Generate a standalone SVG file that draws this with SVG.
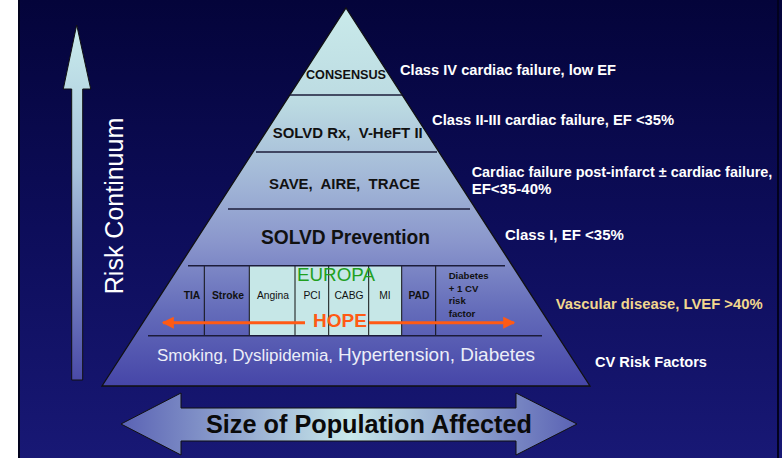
<svg xmlns="http://www.w3.org/2000/svg" width="782" height="458" viewBox="0 0 782 458">
<defs>
<linearGradient id="bg" x1="0" y1="0" x2="0" y2="458" gradientUnits="userSpaceOnUse">
<stop offset="0" stop-color="#04043a"/>
<stop offset="0.5" stop-color="#0d0d5a"/>
<stop offset="1" stop-color="#181875"/>
</linearGradient>
<linearGradient id="pyr" x1="0" y1="8" x2="0" y2="386" gradientUnits="userSpaceOnUse">
<stop offset="0" stop-color="#c9eaea"/>
<stop offset="0.25" stop-color="#bcdbe2"/>
<stop offset="0.47" stop-color="#a0b4d6"/>
<stop offset="0.62" stop-color="#8a96cc"/>
<stop offset="0.8" stop-color="#646cba"/>
<stop offset="1" stop-color="#4646a8"/>
</linearGradient>
<linearGradient id="risk" x1="0" y1="25" x2="0" y2="380" gradientUnits="userSpaceOnUse">
<stop offset="0" stop-color="#c9ecec"/>
<stop offset="0.4" stop-color="#a8c4dc"/>
<stop offset="1" stop-color="#4a4aa8"/>
</linearGradient>
<linearGradient id="size" x1="121" y1="0" x2="577" y2="0" gradientUnits="userSpaceOnUse">
<stop offset="0" stop-color="#5a62b4"/>
<stop offset="0.5" stop-color="#c8e8ea"/>
<stop offset="1" stop-color="#5a62b4"/>
</linearGradient>
<marker id="oh" viewBox="0 0 10 10" refX="9" refY="5" markerWidth="4" markerHeight="4" orient="auto-start-reverse" markerUnits="strokeWidth">
<path d="M0,0 L10,5 L0,10 z" fill="#ff5a14"/>
</marker>
<style>
.b{font-family:"Liberation Sans",Arial,sans-serif;font-weight:bold}
.r{font-family:"Liberation Sans",Arial,sans-serif}
.lbl{font-size:15px;fill:#ffffff}
.in{fill:#111111;text-anchor:middle}
.cell{font-size:10.3px;fill:#111111;text-anchor:middle}
.hl{stroke:#1c1c3a;stroke-width:1.5}
.vl{stroke:#111111;stroke-width:1}
</style>
</defs>
<rect x="0" y="0" width="782" height="458" fill="#ffffff"/>
<rect x="18" y="0" width="764" height="458" fill="url(#bg)"/>
<rect x="18" y="0" width="2" height="458" fill="#02021e"/>
<rect x="777" y="0" width="2" height="458" fill="#02021e"/>

<g id="risk-continuum">
<path d="M76.7,25 L90.7,89 L82.7,89 L82.7,380 L71.7,380 L71.7,89 L63.3,89 Z" fill="url(#risk)" stroke="#111111" stroke-width="1"/>
<text class="r" x="0" y="0" font-size="25" fill="#ffffff" text-anchor="middle" transform="translate(123,206) rotate(-90)">Risk Continuum</text>
</g>

<g id="pyramid">
<path d="M346,8 L590,386 L102,386 Z" fill="url(#pyr)" stroke="#111111" stroke-width="1.3"/>
</g>

<g id="vascular-cells">
<rect x="249.3" y="265.7" width="152.4" height="70" fill="#c6e7e7"/>
<line class="vl" x1="204.3" y1="265.7" x2="204.3" y2="335.7"/>
<line class="vl" x1="249.3" y1="265.7" x2="249.3" y2="335.7"/>
<line class="vl" x1="295" y1="265.7" x2="295" y2="335.7"/>
<line class="vl" x1="328.7" y1="265.7" x2="328.7" y2="335.7"/>
<line class="vl" x1="368.7" y1="265.7" x2="368.7" y2="335.7"/>
<line class="vl" x1="401.7" y1="265.7" x2="401.7" y2="335.7"/>
<line class="vl" x1="435.7" y1="265.7" x2="435.7" y2="335.7"/>
</g>

<g id="tier-lines">
<line class="hl" x1="290" y1="95" x2="402" y2="95"/>
<line class="hl" x1="256" y1="152" x2="437" y2="152"/>
<line class="hl" x1="228" y1="209" x2="470" y2="209"/>
<line class="hl" x1="188" y1="265.7" x2="505" y2="265.7"/>
<line class="hl" x1="148" y1="335.7" x2="542" y2="335.7"/>
</g>

<g id="tier-consensus">
<text class="b" x="306" y="79" font-size="13.2" fill="#111111" textLength="80" lengthAdjust="spacingAndGlyphs">CONSENSUS</text>
</g>
<g id="tier-solvd-rx">
<text class="b" x="272.7" y="138" font-size="15.2" fill="#111111" xml:space="preserve" textLength="150" lengthAdjust="spacingAndGlyphs">SOLVD Rx,  V-HeFT II</text>
</g>
<g id="tier-save">
<text class="b" x="269" y="189" font-size="14" fill="#111111" xml:space="preserve" textLength="151" lengthAdjust="spacingAndGlyphs">SAVE,  AIRE,  TRACE</text>
</g>
<g id="tier-solvd-prev">
<text class="b" x="261" y="243.5" font-size="19.5" fill="#111111" textLength="169" lengthAdjust="spacingAndGlyphs">SOLVD Prevention</text>
</g>
<g id="tier-vascular">
<text class="b cell" x="192" y="299">TIA</text>
<text class="b cell" x="228" y="299">Stroke</text>
<text class="r cell" x="273" y="299" font-size="10.5">Angina</text>
<text class="r cell" x="312" y="299" font-size="10.5">PCI</text>
<text class="r cell" x="349" y="299" font-size="10.5">CABG</text>
<text class="r cell" x="385" y="299" font-size="10.5">MI</text>
<text class="b cell" x="419" y="299">PAD</text>
<text class="b" x="448.7" font-size="9.6" fill="#111111"><tspan x="448.7" y="279">Diabetes</tspan><tspan x="448.7" y="291.5">+ 1 CV</tspan><tspan x="448.7" y="304">risk</tspan><tspan x="448.7" y="316.7">factor</tspan></text>
<text class="r" x="336" y="280.7" font-size="18.8" fill="#1fa01f" text-anchor="middle">EUROPA</text>
</g>
<g id="tier-risk-factors">
<text class="r" x="157" y="361" font-size="16" fill="#eceef8" textLength="176" lengthAdjust="spacingAndGlyphs">Smoking, Dyslipidemia,</text>
<text class="r" x="338" y="361" font-size="19" fill="#eceef8" textLength="197" lengthAdjust="spacingAndGlyphs">Hypertension, Diabetes</text>
</g>

<g id="connectors">
<line x1="305" y1="322.7" x2="163" y2="322.7" stroke="#ff5a14" stroke-width="3" marker-end="url(#oh)"/>
<line x1="369" y1="322.7" x2="514" y2="322.7" stroke="#ff5a14" stroke-width="3" marker-end="url(#oh)"/>
</g>
<g id="hope">
<text class="b" x="340" y="327" font-size="19" fill="#ff5a14" text-anchor="middle">HOPE</text>
</g>

<g id="labels">
<text class="b lbl" x="400" y="75.3" textLength="216" lengthAdjust="spacingAndGlyphs">Class IV cardiac failure, low EF</text>
<text class="b lbl" x="432" y="125" textLength="242" lengthAdjust="spacingAndGlyphs">Class II-III cardiac failure, EF &lt;35%</text>
<text class="b" x="471.7" y="177" font-size="14.4" fill="#ffffff">Cardiac failure post-infarct ± cardiac failure,</text>
<text class="b lbl" x="471.7" y="194">EF&lt;35-40%</text>
<text class="b lbl" x="505" y="239.5">Class I, EF &lt;35%</text>
<text class="b lbl" x="555.7" y="309" style="fill:#f2d78e" textLength="207" lengthAdjust="spacingAndGlyphs">Vascular disease, LVEF &gt;40%</text>
<text class="b lbl" x="595" y="366.5" textLength="112" lengthAdjust="spacingAndGlyphs">CV Risk Factors</text>
</g>

<g id="size-arrow">
<path d="M121,424 L181,393 L181,408 L516,408 L516,393 L577,424 L516,455 L516,441 L181,441 L181,455 Z" fill="url(#size)" stroke="#111111" stroke-width="1"/>
<text class="b" x="206" y="433" font-size="25.5" fill="#0a0a0a" textLength="326" lengthAdjust="spacingAndGlyphs">Size of Population Affected</text>
</g>
</svg>
